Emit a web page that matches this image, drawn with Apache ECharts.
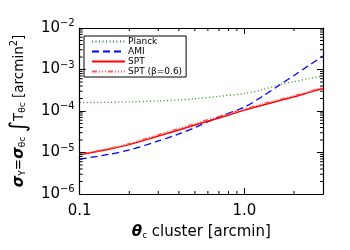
<!DOCTYPE html>
<html><head><meta charset="utf-8">
<script src="https://cdn.jsdelivr.net/npm/echarts@6/dist/echarts.min.js"></script>
<style>html,body{margin:0;padding:0;background:#fff}#c{width:350px;height:250px}</style>
</head><body><div id="c"></div>
<script>
const theta = [0.1, 0.15, 0.2, 0.3, 0.4, 0.5, 0.7, 1.0, 1.3, 1.6, 2.0, 2.5, 3.0];
const planck = [1.6e-4, 1.62e-4, 1.65e-4, 1.75e-4, 1.85e-4, 1.97e-4, 2.25e-4, 2.65e-4, 3.3e-4, 4.2e-4, 5.1e-4, 6.1e-4, 7.0e-4];
const ami = [6.9e-6, 9.0e-6, 1.15e-5, 1.9e-5, 2.8e-5, 4.0e-5, 7.2e-5, 1.25e-4, 2.3e-4, 4.0e-4, 7.2e-4, 1.3e-3, 2.1e-3];
const spt = [8.9e-6, 1.2e-5, 1.55e-5, 2.5e-5, 3.5e-5, 4.6e-5, 6.8e-5, 1.05e-4, 1.4e-4, 1.75e-4, 2.2e-4, 2.85e-4, 3.5e-4];
const sptBeta = [9.0e-6, 1.25e-5, 1.65e-5, 2.7e-5, 3.8e-5, 5.0e-5, 7.4e-5, 1.12e-4, 1.5e-4, 1.85e-4, 2.35e-4, 3.0e-4, 3.7e-4];
const seriesNames = ['Planck', 'AMI', 'SPT', 'SPT (\u03b2=0.6)'];
const xMinorTicks = [0.2, 0.3, 0.4, 0.5, 0.6, 0.7, 0.8, 0.9, 2];
const yMinorTicks = [];
[1e-6, 1e-5, 1e-4, 1e-3].forEach(d => { for (let k = 2; k <= 9; k++) yMinorTicks.push(+(k * d).toPrecision(3)); });

const FONT = 'DejaVu Sans';
const chart = echarts.init(document.getElementById('c'));
const pair = arr => theta.map((t, i) => [t, arr[i]]);

function minorX(params, api) {
  const cs = params.coordSys;
  const p = api.coord([api.value(0), 1e-4]);
  const st = { stroke: '#000', lineWidth: 1 };
  return { type: 'group', children: [
    { type: 'line', shape: { x1: p[0], y1: cs.y + cs.height, x2: p[0], y2: cs.y + cs.height - 3 }, style: st },
    { type: 'line', shape: { x1: p[0], y1: cs.y, x2: p[0], y2: cs.y + 3 }, style: st }
  ]};
}
function minorY(params, api) {
  const cs = params.coordSys;
  const p = api.coord([1, api.value(1)]);
  const st = { stroke: '#000', lineWidth: 1 };
  return { type: 'group', children: [
    { type: 'line', shape: { x1: cs.x, y1: p[1], x2: cs.x + 3, y2: p[1] }, style: st },
    { type: 'line', shape: { x1: cs.x + cs.width, y1: p[1], x2: cs.x + cs.width - 3, y2: p[1] }, style: st }
  ]};
}

const axisCommon = {
  type: 'log', logBase: 10,
  axisLine: { show: true, onZero: false, lineStyle: { color: '#000', width: 1.2 } },
  axisTick: { show: true, inside: true, length: 6, lineStyle: { color: '#000' } },
  splitLine: { show: false },
  minorTick: { show: false }
};

chart.setOption({
  animation: false,
  backgroundColor: '#fff',
  grid: { left: 79, right: 27, top: 28, bottom: 56, containLabel: false },
  legend: {
    data: seriesNames,
    orient: 'vertical', left: 84, top: 36,
    itemWidth: 33, itemHeight: 7, itemGap: 1,
    padding: [1, 4, 1, 7],
    borderColor: '#000', borderWidth: 1,
    itemStyle: { opacity: 0 },
    textStyle: { fontFamily: FONT, fontSize: 9, color: '#000', padding: [0, 0, 0, -2] }
  },
  xAxis: [
    Object.assign({}, axisCommon, {
      position: 'bottom', min: 0.1, max: 3.0,
      axisLabel: { fontFamily: FONT, fontSize: 15, color: '#000', margin: 10,
        formatter: v => (Math.abs(v - 1) < 1e-9 ? '1.0' : (Math.abs(v - 0.1) < 1e-9 ? '0.1' : '')) },
      name: '{g|\u03b8}{sub|c}{t| cluster [arcmin]}',
      nameLocation: 'middle', nameGap: 30,
      nameTextStyle: { rich: {
        g: { fontFamily: FONT, fontSize: 15, fontWeight: 'bold', fontStyle: 'italic', color: '#000' },
        sub: { fontFamily: FONT, fontSize: 9, color: '#000', padding: [7, 0, 0, 0] },
        t: { fontFamily: FONT, fontSize: 15, color: '#000' } } }
    }),
    Object.assign({}, axisCommon, {
      position: 'top', min: 0.1, max: 3.0, axisLabel: { show: false }
    })
  ],
  yAxis: [
    Object.assign({}, axisCommon, {
      position: 'left', min: 1e-6, max: 1e-2,
      axisLabel: { margin: 5, formatter: v => '{b|10}{s|' + '\u2212' + Math.round(-Math.log10(v)) + '}',
        rich: {
          b: { fontFamily: FONT, fontSize: 15, color: '#000' },
          s: { fontFamily: FONT, fontSize: 10, color: '#000', verticalAlign: 'top', padding: [0, 0, 9, 0] } } },
      name: '{g|\u03c3}{sub|Y}{t|=}{g|\u03c3}{sub|\u03b8c}{t| }{i|\u222b}{t|T}{sub|\u03b8c}{t| [arcmin}{sup|2}{t|]}',
      nameLocation: 'middle', nameRotate: 90, nameGap: 41,
      nameTextStyle: { rich: {
        g: { fontFamily: FONT, fontSize: 15, fontWeight: 'bold', fontStyle: 'italic', color: '#000' },
        sub: { fontFamily: FONT, fontSize: 9, color: '#000', padding: [8, 0, 0, 0] },
        sup: { fontFamily: FONT, fontSize: 10, color: '#000', padding: [0, 0, 9, 0] },
        i: { fontFamily: FONT, fontSize: 22, color: '#000' },
        t: { fontFamily: FONT, fontSize: 13.5, color: '#000' } } }
    }),
    Object.assign({}, axisCommon, {
      position: 'right', min: 1e-6, max: 1e-2, axisLabel: { show: false }
    })
  ],
  series: [
    { name: 'Planck', type: 'line', data: pair(planck), symbol: 'none', smooth: 0.3,
      lineStyle: { color: '#2f8a2f', width: 1.3, type: [1, 2.5] }, itemStyle: { color: '#2f8a2f' } },
    { name: 'AMI', type: 'line', data: pair(ami), symbol: 'none', smooth: 0.3,
      lineStyle: { color: '#0000ff', width: 1.3, type: [7, 4] }, itemStyle: { color: '#0000ff' } },
    { name: 'SPT', type: 'line', data: pair(spt), symbol: 'none', smooth: 0.3,
      lineStyle: { color: '#ff0000', width: 1.5, type: 'solid' }, itemStyle: { color: '#ff0000' } },
    { name: 'SPT (\u03b2=0.6)', type: 'line', data: pair(sptBeta), symbol: 'none', smooth: 0.3,
      lineStyle: { color: '#ff5a5a', width: 1.5, type: [5, 2, 1, 2, 1, 2, 1, 2] }, itemStyle: { color: '#ff5a5a' } },
    { type: 'custom', renderItem: minorX, data: xMinorTicks.map(v => [v, 1e-4]), silent: true, clip: false, z: 5 },
    { type: 'custom', renderItem: minorY, data: yMinorTicks.map(v => [1, v]), silent: true, clip: false, z: 5 }
  ]
});
</script></body></html>
